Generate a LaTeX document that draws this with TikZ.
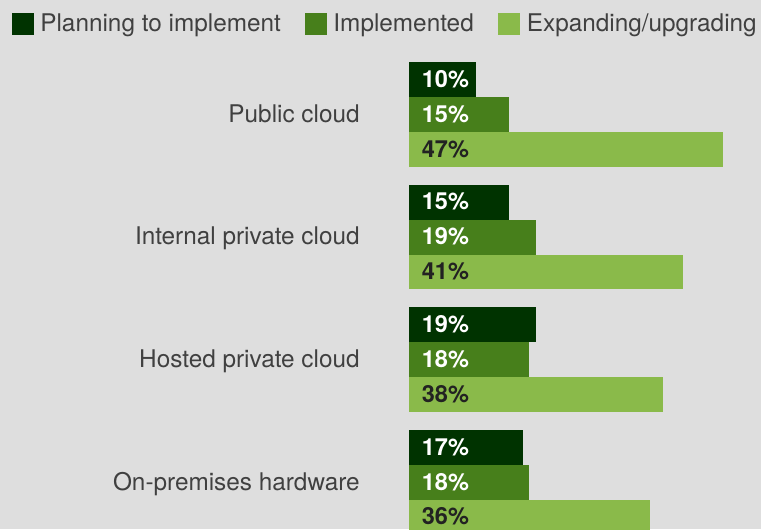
\documentclass[tikz,border=0pt]{standalone}
\usepackage{fontspec}
\setmainfont{TeX Gyre Heros}
\definecolor{bgray}{HTML}{DEDEDE}
\definecolor{plancol}{HTML}{003300}
\definecolor{implcol}{HTML}{477F1B}
\definecolor{expcol}{HTML}{8ABA4A}
\definecolor{txtgray}{HTML}{404040}
\definecolor{pctcol}{HTML}{222222}
\tikzset{
	plan/.style={fill=plancol},
	impl/.style={fill=implcol},
	expd/.style={fill=expcol},
	pct/.style={anchor=base west,inner sep=0pt,font=\fontsize{13.4}{16}\selectfont\bfseries,text=white},
	pctdark/.style={pct,text=pctcol},
	cat/.style={anchor=base east,inner sep=0pt,font=\fontsize{13.85}{16}\selectfont,text=txtgray},
	key/.style={anchor=base west,inner sep=0pt,font=\fontsize{13.85}{16}\selectfont,text=txtgray}
}
\begin{document}
\begin{tikzpicture}[x=0.02cm,y=-0.02cm]
	\clip (0,0) rectangle (761,529);
	\fill[bgray] (0,0) rectangle (761,529);
	% legend
	\fill[plan] (12,13) rectangle ++(22,22);
	\node[key] (kplan) at (40,31) {Planning to implement};
	\fill[impl] (305,13) rectangle ++(22,22);
	\node[key] (kimpl) at (333,31) {Implemented};
	\fill[expd] (498,13) rectangle ++(22,22);
	\node[key] (kexpd) at (526.5,31) {Expanding/upgrading};
	% public cloud
	\node[cat] (pub) at (360,122) {Public cloud};
	\fill[plan] (409,62) rectangle ++(66.8,34.9);
	\node[pct] (pubplan) at (421.5,87) {10\%};
	\fill[impl] (409,96.9) rectangle ++(100.2,34.9);
	\node[pct] (pubimpl) at (421.5,122) {15\%};
	\fill[expd] (409,131.8) rectangle ++(314,34.9);
	\node[pctdark] (pubexpd) at (421.5,157) {47\%};
	% internal private cloud
	\node[cat] (int) at (360,244.6) {Internal private cloud};
	\fill[plan] (409,184.7) rectangle ++(100.2,34.9);
	\node[pct] (intplan) at (421.5,209.7) {15\%};
	\fill[impl] (409,219.6) rectangle ++(126.9,34.9);
	\node[pct] (intimpl) at (421.5,244.6) {19\%};
	\fill[expd] (409,254.5) rectangle ++(273.9,34.9);
	\node[pctdark] (intexpd) at (421.5,279.5) {41\%};
	% hosted private cloud
	\node[cat] (hos) at (360,367.3) {Hosted private cloud};
	\fill[plan] (409,307.4) rectangle ++(126.9,34.9);
	\node[pct] (hosplan) at (421.5,332.4) {19\%};
	\fill[impl] (409,342.3) rectangle ++(120.2,34.9);
	\node[pct] (hosimpl) at (421.5,367.3) {18\%};
	\fill[expd] (409,377.2) rectangle ++(253.8,34.9);
	\node[pctdark] (hosexpd) at (421.5,402.2) {38\%};
	% on-premises hardware
	\node[cat] (onp) at (360,490) {On-premises hardware};
	\fill[plan] (409,430.1) rectangle ++(113.6,34.9);
	\node[pct] (onpplan) at (421.5,455.1) {17\%};
	\fill[impl] (409,465) rectangle ++(120.2,34.9);
	\node[pct] (onpimpl) at (421.5,490) {18\%};
	\fill[expd] (409,499.9) rectangle ++(240.5,34.9);
	\node[pctdark] (onpexpd) at (421.5,524.9) {36\%};
\end{tikzpicture}
\end{document}
